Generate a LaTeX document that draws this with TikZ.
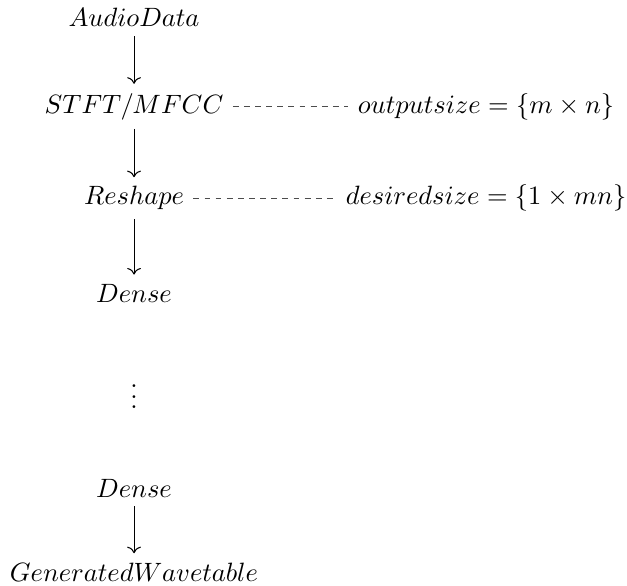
\documentclass[tikz,border=0pt]{standalone}
\usepackage{amsmath}
\usepackage{amssymb}
\usetikzlibrary{arrows.meta, math}

\begin{document}
\begin{tikzpicture}[>={Computer Modern Rightarrow}, every node/.style={anchor=base},
  dashline/.style={black!70, dash pattern=on 2.2pt off 2pt}]

\tikzmath{
			\xl = 1.778; \xr = 6.447;
			\ya = -0.358; \yb = -1.499; \yc = -2.719; \yd = -4.006;
			\ye = -5.425; \yf = -6.593; \yg = -7.707;
          }

\useasboundingbox (0,0) rectangle (8.317,-7.760);

\node (audio) at (\xl,\ya) {$AudioData$};
\node (stft) at (\xl,\yb) {$STFT/MFCC$};
\node (outsize) at (\xr,\yb) {$outputsize = \{m \times n\}$};
\node (reshape) at (\xl,\yc) {$Reshape$};
\node (dessize) at (\xr,\yc) {$desiredsize = \{1 \times mn\}$};
\node (dense1) at (\xl,\yd) {$Dense$};
\node (dots) at (\xl,\ye) {$\vdots$};
\node (dense2) at (\xl,\yf) {$Dense$};
\node (wavetable) at (\xl,\yg) {$GeneratedWavetable$};

\draw[->] (audio) -- (stft);
\draw[->] (stft) -- (reshape);
\draw[->] (reshape) -- (dense1);
\draw[->] (dense2) -- (wavetable);

\draw[dashline] (stft) -- (outsize);
\draw[dashline] (reshape) -- (dessize);

\end{tikzpicture}
\end{document}
